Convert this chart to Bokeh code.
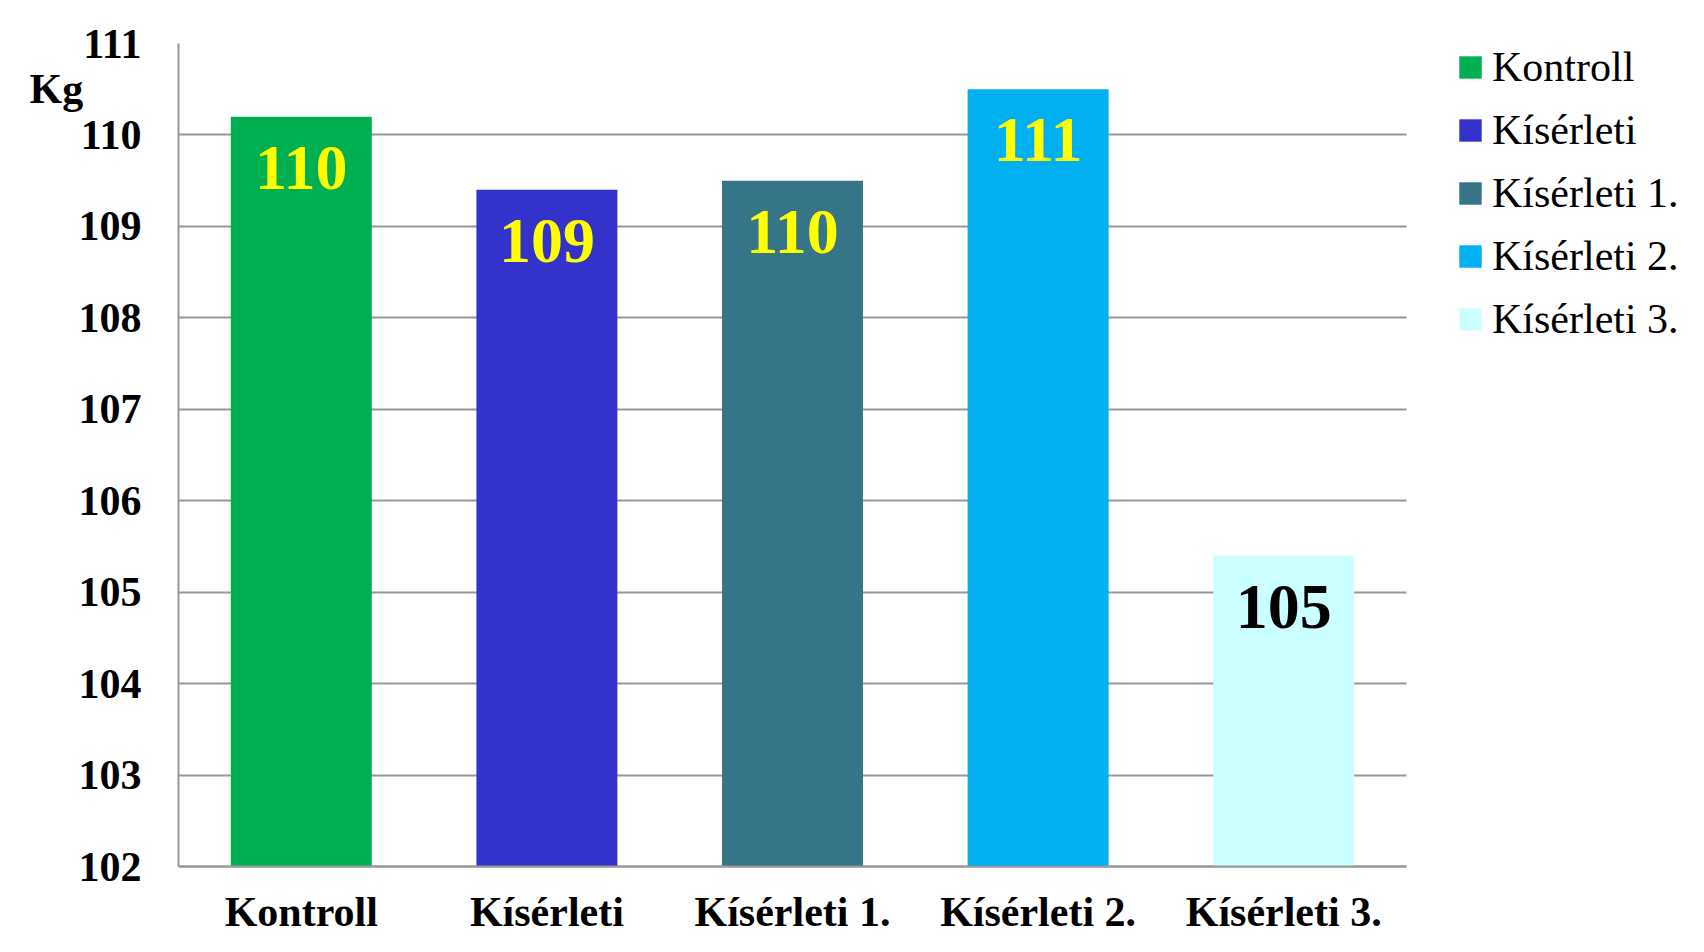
from bokeh.plotting import figure
from bokeh.models import ColumnDataSource, Range1d, FixedTicker, Label
from bokeh.core.properties import value
from bokeh.embed import file_html
from bokeh.resources import INLINE

categories = ["Kontroll", "Kísérleti", "Kísérleti 1.", "Kísérleti 2.", "Kísérleti 3."]
values = [110.2, 109.4, 109.5, 110.5, 105.4]
labels = ["110", "109", "110", "111", "105"]
colors = ["#00B050", "#3333CC", "#367588", "#00B0F0", "#CCFFFF"]
label_colors = ["#FFFF00", "#FFFF00", "#FFFF00", "#FFFF00", "#000000"]
y_ticks = [102, 103, 104, 105, 106, 107, 108, 109, 110, 111]

FONT = "Liberation Serif"
W, H = 1688, 936
LEFT, TOP = 178, 43
CHART_RIGHT = 1406   # right end of bar area (px)
CHART_BOTTOM = 866   # baseline (102) position (px)

idx = list(range(len(categories)))
unit_x = (CHART_RIGHT - LEFT) / len(categories)
x_end = -0.5 + (W - LEFT) / unit_x
y0, y1 = y_ticks[0], y_ticks[-1]
unit_y = (CHART_BOTTOM - TOP) / (y1 - y0)
y_start = y0 - (H - CHART_BOTTOM) / unit_y

src = ColumnDataSource(dict(x=idx, cat=categories, val=values, lbl=labels,
                            color=colors, lcolor=label_colors))

p = figure(x_range=Range1d(-0.5, x_end), y_range=Range1d(y_start, y1),
           width=W, height=H, output_backend="svg", toolbar_location=None,
           min_border_left=LEFT, min_border_right=0, min_border_top=TOP,
           min_border_bottom=0)
p.outline_line_color = None
p.background_fill_color = "white"
p.border_fill_color = "white"

p.vbar(x="x", top="val", bottom=y0, width=0.574, color="color",
       line_color=None, source=src, legend_field="cat")

p.text(x="x", y="val", text="lbl", text_color="lcolor", source=src,
       text_font=value(FONT), text_font_style="bold",
       text_font_size=value("64px"), text_align="center",
       text_baseline="alphabetic", y_offset=51)

p.xgrid.grid_line_color = None
p.ygrid.grid_line_color = "#989898"
p.ygrid.grid_line_width = 2
p.ygrid.cross_bounds = (-0.5, len(categories) - 0.5)
p.yaxis.ticker = FixedTicker(ticks=y_ticks)
p.yaxis.bounds = (y0, y1)
p.xaxis.ticker = FixedTicker(ticks=idx)
p.xaxis.major_label_overrides = {i: c for i, c in zip(idx, categories)}
p.xaxis.bounds = (-0.5, len(categories) - 0.5)
p.xaxis.fixed_location = y0

for ax in (p.xaxis[0], p.yaxis[0]):
    ax.axis_line_color = "#989898"
    ax.axis_line_width = 2
    ax.major_tick_out = 0
    ax.major_tick_in = 0
    ax.minor_tick_out = 0
    ax.minor_tick_in = 0
    ax.major_tick_line_color = None
    ax.minor_tick_line_color = None
    ax.major_label_text_font = FONT
    ax.major_label_text_font_style = "bold"
    ax.major_label_text_font_size = "42px"
    ax.major_label_text_color = "black"

p.yaxis.major_label_standoff = 37
p.xaxis.major_label_standoff = 22

kg = Label(x=8, y=110.5, x_units="screen", y_units="data", text="Kg",
           text_font=FONT, text_font_style="bold", text_font_size="42px",
           text_baseline="middle", text_align="left", text_color="black")
p.add_layout(kg, "left")

leg = p.legend[0]
leg.location = (1278, 593)
leg.border_line_color = None
leg.background_fill_alpha = 0
leg.padding = 0
leg.margin = 0
leg.glyph_width = 28
leg.glyph_height = 28
leg.label_height = 48
leg.spacing = 15
leg.label_standoff = 8
leg.label_text_font = FONT
leg.label_text_font_size = "42px"
leg.label_text_color = "black"

open("out.html", "w").write(file_html(p, INLINE))
